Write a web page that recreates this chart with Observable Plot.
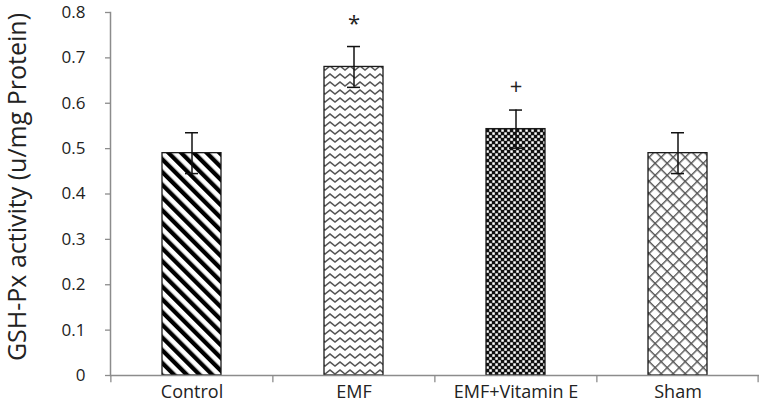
<!DOCTYPE html>
<html>
<head>
<meta charset="utf-8">
<script src="https://cdn.jsdelivr.net/npm/d3@7"></script>
<script src="https://cdn.jsdelivr.net/npm/@observablehq/plot@0.6"></script>
<style>
  html, body { margin: 0; padding: 0; background: #fff; }
</style>
</head>
<body>
<div id="chart"></div>
<script>
// ---- data ----
const categories = ["Control", "EMF", "EMF+Vitamin E", "Sham"];
const means = [0.49, 0.68, 0.543, 0.49];
const errors = [0.045, 0.045, 0.042, 0.045];
const signif = ["", "*", "+", ""];
const yTicks = [0, 0.1, 0.2, 0.3, 0.4, 0.5, 0.6, 0.7, 0.8];
const yLabel = "GSH-Px activity (u/mg Protein)";

// ---- styles ----
const patternIds = ["p-control", "p-emf", "p-emfvit", "p-sham"];
const axisGray = "#8c8c8c";
const W = 761, H = 407, ML = 110, MR = 2, MT = 12, MB = 32;
const step = (W - ML - MR) / categories.length;

const data = categories.map((c, i) => ({group: c, mean: means[i], err: errors[i], sig: signif[i]}));

const svg = Plot.plot({
  width: W, height: H,
  marginLeft: ML, marginRight: MR, marginTop: MT, marginBottom: MB,
  style: {fontFamily: "'Open Sans', sans-serif", color: "#222", background: "#fff"},
  x: {domain: categories, paddingInner: 0.636, paddingOuter: 0.318},
  y: {domain: [0, 0.8]},
  color: {type: "ordinal", domain: categories, range: patternIds.map(id => `url(#${id})`)},
  marks: [
    Plot.frame({anchor: "left", stroke: axisGray, strokeWidth: 1.5}),
    Plot.barY(data, {x: "group", y: "mean", fill: "group", stroke: "#1a1a1a", strokeWidth: 1.3}),
    Plot.ruleY([0], {stroke: axisGray, strokeWidth: 1.5}),
    Plot.ruleX(categories, {x: d => d, dx: -step / 2, y1: 0, y2: -0.016, stroke: axisGray, strokeWidth: 1.3}),
    Plot.ruleX(categories.slice(-1), {x: d => d, dx: step / 2 - 1, y1: 0, y2: -0.016, stroke: axisGray, strokeWidth: 1.3}),
    Plot.ruleX(data, {x: "group", y1: d => d.mean - d.err, y2: d => d.mean + d.err, stroke: "#111", strokeWidth: 1.5}),
    Plot.tickY(data, {x: "group", y: d => d.mean + d.err, insetLeft: 23, insetRight: 23, stroke: "#111", strokeWidth: 1.5}),
    Plot.tickY(data, {x: "group", y: d => d.mean - d.err, insetLeft: 23, insetRight: 23, stroke: "#111", strokeWidth: 1.5}),
    Plot.text(data.filter(d => d.sig), {x: "group", y: d => d.mean + d.err + 0.05, text: "sig", fontSize: 22, fill: "#222"}),
    Plot.axisY({ticks: yTicks, tickSize: 5, tickPadding: 20, stroke: axisGray, strokeWidth: 1.3,
      tickFormat: d => d === 0 ? "0" : d.toFixed(1), fontSize: 17, label: null}),
    Plot.axisX({tickSize: 0, tickPadding: 10, fontSize: 18, label: null}),
    Plot.text([yLabel], {frameAnchor: "left", rotate: -90, textAnchor: "middle", dx: -93, dy: -7, fontSize: 25, fill: "#222"})
  ]
});

// ---- fill patterns ----
const defs = d3.select(svg).insert("defs", ":first-child");
// Control: thick "\" stripes
const p0 = defs.append("pattern").attr("id", patternIds[0]).attr("patternUnits", "userSpaceOnUse")
  .attr("width", 9).attr("height", 9).attr("patternTransform", "rotate(-45)");
p0.append("rect").attr("width", 9).attr("height", 9).attr("fill", "#fff");
p0.append("rect").attr("width", 4.3).attr("height", 9).attr("fill", "#000");
// EMF: horizontal zigzag
const p1 = defs.append("pattern").attr("id", patternIds[1]).attr("patternUnits", "userSpaceOnUse")
  .attr("width", 10).attr("height", 8);
p1.append("rect").attr("width", 10).attr("height", 8).attr("fill", "#fff");
p1.append("path").attr("d", "M-5,6 L0,2 L5,6 L10,2 L15,6").attr("fill", "none")
  .attr("stroke", "#555").attr("stroke-width", 1.6);
// EMF+Vitamin E: small checkerboard
const p2 = defs.append("pattern").attr("id", patternIds[2]).attr("patternUnits", "userSpaceOnUse")
  .attr("width", 6).attr("height", 6);
p2.append("rect").attr("width", 6).attr("height", 6).attr("fill", "#111");
p2.append("rect").attr("x", 0.3).attr("y", 0.3).attr("width", 2.5).attr("height", 2.5).attr("fill", "#fff");
p2.append("rect").attr("x", 3.3).attr("y", 3.3).attr("width", 2.5).attr("height", 2.5).attr("fill", "#fff");
// Sham: diagonal crosshatch
const p3 = defs.append("pattern").attr("id", patternIds[3]).attr("patternUnits", "userSpaceOnUse")
  .attr("width", 8.5).attr("height", 8.5).attr("patternTransform", "rotate(45)");
p3.append("rect").attr("width", 8.5).attr("height", 8.5).attr("fill", "#fff");
p3.append("path").attr("d", "M0,0.7 H8.5 M0.7,0 V8.5").attr("stroke", "#555").attr("stroke-width", 1.4);

document.getElementById("chart").appendChild(svg);
</script>
</body>
</html>
